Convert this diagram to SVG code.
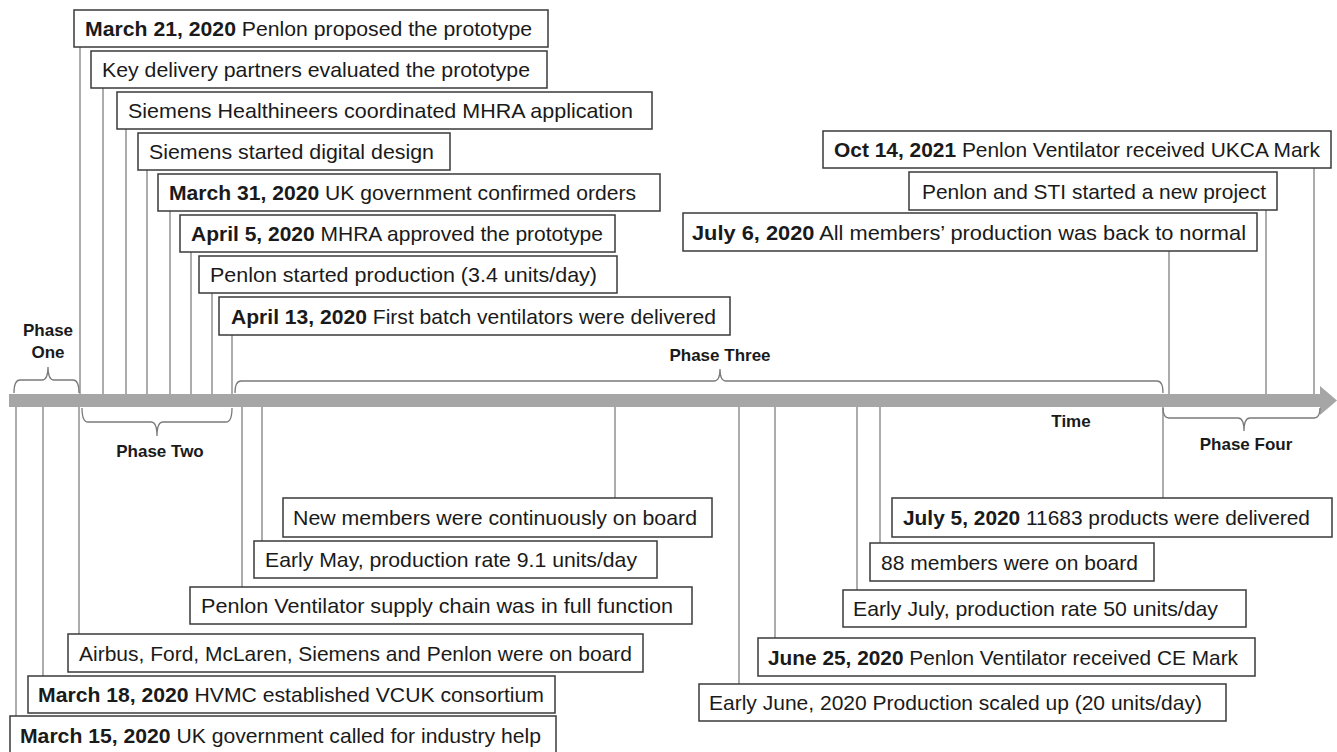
<svg xmlns="http://www.w3.org/2000/svg" width="1337" height="752" viewBox="0 0 1337 752">
<style>
.box{fill:#fff;stroke:#3a3a3a;stroke-width:1.5}
.t{font-family:"Liberation Sans",Arial,sans-serif;font-size:21px;fill:#1a1a1a}
.b{font-weight:bold}
.ln{stroke:#808080;stroke-width:1.3;fill:none}
.br{stroke:#7a7a7a;stroke-width:1.3;fill:none}
.ph{font-family:"Liberation Sans",Arial,sans-serif;font-size:17px;font-weight:bold;fill:#1a1a1a;text-anchor:middle}
</style>
<rect width="1337" height="752" fill="#fff"/>
<g id="connectors">
<path class="ln" d="M80,47V394M103,88V394M126,129V394M147,170V394M170,211V394M191,252V394M212,293V394M232,335V394M1169,251V394M1266,210V394M1314,168V394"/>
<path class="ln" d="M16,407V716M43,407V676M79,407V634M242,407V587M262,407V541M615,407V498M739,407V684M775,407V638M857,407V590M880,407V543M1163,407V498"/>
</g>
<g id="timeline">
<rect x="9" y="394" width="1312" height="13" fill="#a6a6a6"/>
<polygon points="1320,386 1337,400.5 1320,415" fill="#a6a6a6"/>
<text class="ph" x="1071" y="427">Time</text>
</g>
<g id="phase-one">
<path class="br" d="M14,393Q14,380 20,380H42Q48,380 48,367Q48,380 54,380H73Q79,380 79,393"/>
<text class="ph" x="48" y="336">Phase</text>
<text class="ph" x="48" y="358">One</text>
</g>
<g id="phase-two">
<path class="br" d="M82,408Q82,422 88,422H151Q157,422 157,436Q157,422 163,422H226Q232,422 232,408"/>
<text class="ph" x="160" y="457">Phase Two</text>
</g>
<g id="phase-three">
<path class="br" d="M235,393Q235,381 241,381H714Q720,381 720,369Q720,381 726,381H1157Q1163,381 1163,393"/>
<text class="ph" x="720" y="361">Phase Three</text>
</g>
<g id="phase-four">
<path class="br" d="M1163,408Q1163,418 1169,418H1238Q1244,418 1244,431Q1244,418 1250,418H1314Q1320,418 1320,408"/>
<text class="ph" x="1246" y="450">Phase Four</text>
</g>
<g id="n1"><rect class="box" x="74" y="10" width="474" height="37"/><text class="t" x="85" y="36" textLength="447" lengthAdjust="spacingAndGlyphs"><tspan class="b">March 21, 2020</tspan> Penlon proposed the prototype</text></g>
<g id="n2"><rect class="box" x="91" y="51" width="456" height="37"/><text class="t" x="102" y="77" textLength="428" lengthAdjust="spacingAndGlyphs">Key delivery partners evaluated the prototype</text></g>
<g id="n3"><rect class="box" x="117" y="92" width="535" height="37"/><text class="t" x="128" y="118" textLength="505" lengthAdjust="spacingAndGlyphs">Siemens Healthineers coordinated MHRA application</text></g>
<g id="n4"><rect class="box" x="138" y="133" width="312" height="37"/><text class="t" x="149" y="159" textLength="285" lengthAdjust="spacingAndGlyphs">Siemens started digital design</text></g>
<g id="n5"><rect class="box" x="158" y="174" width="502" height="37"/><text class="t" x="169" y="200" textLength="467" lengthAdjust="spacingAndGlyphs"><tspan class="b">March 31, 2020</tspan> UK government confirmed orders</text></g>
<g id="n6"><rect class="box" x="180" y="215" width="435" height="37"/><text class="t" x="191" y="241" textLength="412" lengthAdjust="spacingAndGlyphs"><tspan class="b">April 5, 2020</tspan> MHRA approved the prototype</text></g>
<g id="n7"><rect class="box" x="199" y="256" width="418" height="37"/><text class="t" x="210" y="282" textLength="387" lengthAdjust="spacingAndGlyphs">Penlon started production (3.4 units/day)</text></g>
<g id="n8"><rect class="box" x="219" y="297" width="511" height="38"/><text class="t" x="231" y="324" textLength="485" lengthAdjust="spacingAndGlyphs"><tspan class="b">April 13, 2020</tspan> First batch ventilators were delivered</text></g>
<g id="n9"><rect class="box" x="823" y="131" width="508" height="37"/><text class="t" x="834" y="157" textLength="486" lengthAdjust="spacingAndGlyphs"><tspan class="b">Oct 14, 2021</tspan> Penlon Ventilator received UKCA Mark</text></g>
<g id="n10"><rect class="box" x="909" y="172" width="368" height="38"/><text class="t" x="922" y="199" textLength="344" lengthAdjust="spacingAndGlyphs">Penlon and STI started a new project</text></g>
<g id="n11"><rect class="box" x="683" y="213" width="574" height="38"/><text class="t" x="692" y="240" textLength="554" lengthAdjust="spacingAndGlyphs"><tspan class="b">July 6, 2020</tspan> All members’ production was back to normal</text></g>
<g id="n12"><rect class="box" x="283" y="498" width="429" height="39"/><text class="t" x="293" y="525" textLength="404" lengthAdjust="spacingAndGlyphs">New members were continuously on board</text></g>
<g id="n13"><rect class="box" x="254" y="541" width="403" height="37"/><text class="t" x="265" y="567" textLength="372" lengthAdjust="spacingAndGlyphs">Early May, production rate 9.1 units/day</text></g>
<g id="n14"><rect class="box" x="190" y="587" width="502" height="37"/><text class="t" x="201" y="613" textLength="472" lengthAdjust="spacingAndGlyphs">Penlon Ventilator supply chain was in full function</text></g>
<g id="n15"><rect class="box" x="68" y="634" width="575" height="38"/><text class="t" x="79" y="661" textLength="553" lengthAdjust="spacingAndGlyphs">Airbus, Ford, McLaren, Siemens and Penlon were on board</text></g>
<g id="n16"><rect class="box" x="28" y="676" width="527" height="37"/><text class="t" x="38" y="702" textLength="506" lengthAdjust="spacingAndGlyphs"><tspan class="b">March 18, 2020</tspan> HVMC established VCUK consortium</text></g>
<g id="n17"><rect class="box" x="10" y="716" width="546" height="40"/><text class="t" x="20" y="743" textLength="521" lengthAdjust="spacingAndGlyphs"><tspan class="b">March 15, 2020</tspan> UK government called for industry help</text></g>
<g id="n18"><rect class="box" x="892" y="498" width="440" height="39"/><text class="t" x="903" y="525" textLength="407" lengthAdjust="spacingAndGlyphs"><tspan class="b">July 5, 2020</tspan> 11683 products were delivered</text></g>
<g id="n19"><rect class="box" x="870" y="543" width="284" height="38"/><text class="t" x="881" y="570" textLength="257" lengthAdjust="spacingAndGlyphs">88 members were on board</text></g>
<g id="n20"><rect class="box" x="843" y="590" width="403" height="37"/><text class="t" x="853" y="616" textLength="365" lengthAdjust="spacingAndGlyphs">Early July, production rate 50 units/day</text></g>
<g id="n21"><rect class="box" x="758" y="638" width="497" height="38"/><text class="t" x="768" y="665" textLength="470" lengthAdjust="spacingAndGlyphs"><tspan class="b">June 25, 2020</tspan> Penlon Ventilator received CE Mark</text></g>
<g id="n22"><rect class="box" x="699" y="684" width="527" height="37"/><text class="t" x="709" y="710" textLength="493" lengthAdjust="spacingAndGlyphs">Early June, 2020 Production scaled up (20 units/day)</text></g>
</svg>
